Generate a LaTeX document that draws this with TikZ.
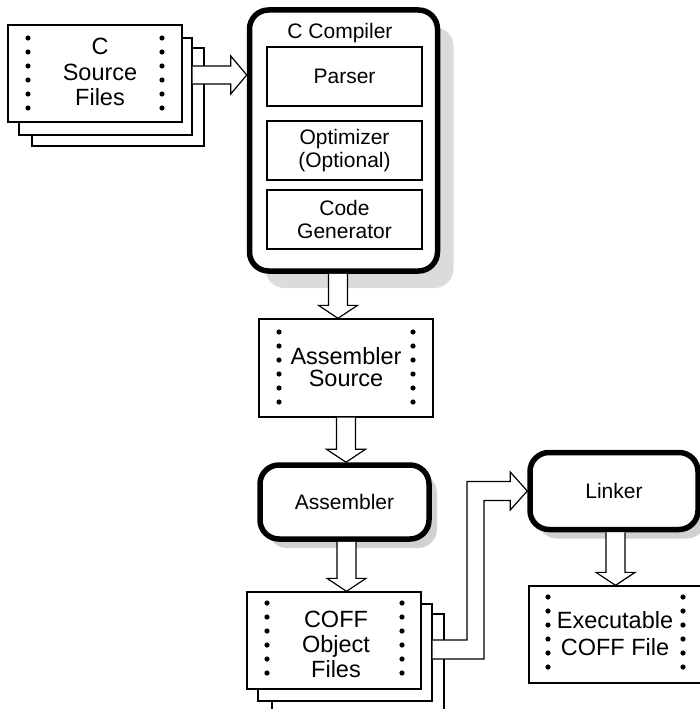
\documentclass[tikz,border=0pt]{standalone}
\usepackage{fontspec}
\setmainfont{Liberation Sans}
\usetikzlibrary{calc,shadows}
\tikzset{
  docbox/.style={draw, fill=white, line width=1.3pt, inner sep=0pt},
  rbox/.style={draw, fill=white, line width=5.5pt, rounded corners=19pt, inner sep=0pt, align=center, font=\fontsize{21}{24}\selectfont},
  ibox/.style={draw, fill=white, line width=1.4pt, inner sep=0pt, minimum width=155pt, minimum height=59pt, align=center, font=\fontsize{21}{23.5}\selectfont},
  bigtxt/.style={inner sep=0pt, align=center, font=\fontsize{23.5}{25.5}\selectfont},
  blk/.style={fill=white, draw=black, line width=1.2pt, line join=miter},
  bigshadow/.style={drop shadow={shadow xshift=16pt, shadow yshift=-17pt, fill=black!14, opacity=1}},
  smallshadow/.style={drop shadow={shadow xshift=8pt, shadow yshift=-9pt, fill=black!18, opacity=1}},
}
\newcommand{\vblock}[3]{%
  \filldraw[blk] let \p1=(#1.south), \p2=(#2.north) in
    (#3pt-9.5pt,\y1) -- (#3pt-9.5pt,\y2+13pt) -- (#3pt-19.5pt,\y2+13pt) -- (#3pt,\y2)
    -- (#3pt+19.5pt,\y2+13pt) -- (#3pt+9.5pt,\y2+13pt) -- (#3pt+9.5pt,\y1);}
\newcommand{\dotcol}[2]{%
  \foreach \k in {0,...,5} {\fill (#1,{#2+14*\k}) circle (2.6pt);}}
\begin{document}
\begin{tikzpicture}[x=1pt,y=-1pt]
\useasboundingbox (0,0) rectangle (700,709);
\clip (0,0) rectangle (700,709);

% C source files stack
\node[docbox, minimum width=172pt, minimum height=98pt] (srcb3) at (118,97) {};
\node[docbox, minimum width=173pt, minimum height=97pt] (srcb2) at (105.5,86.5) {};
\node[docbox, minimum width=174pt, minimum height=97pt] (src) at (95,73.5) {};
\node[bigtxt] (srct) at (100,72) {C\\Source\\Files};
\dotcol{28}{38}
\dotcol{162}{38}

% C compiler
\node[rbox, bigshadow, minimum width=188pt, minimum height=261pt] (comp) at (343.5,140.5) {};
\node[inner sep=0pt, font=\fontsize{21}{24}\selectfont] (complab) at (340,33) {C Compiler};
\node[ibox] (pars) at (344.5,76.5) {Parser};
\node[ibox] (opt) at (344.5,150.5) {Optimizer\\(Optional)};
\node[ibox] (cgen) at (344.5,219.5) {Code\\Generator};

% arrow source -> compiler
\filldraw[blk] let \p1=(srcb2.east), \p2=(comp.west) in
  (\x1,-66pt) -- (\x2-16pt,-66pt) -- (\x2-16pt,-56pt) -- (\x2,-75pt)
  -- (\x2-16pt,-94pt) -- (\x2-16pt,-84pt) -- (\x1,-84pt);

% assembler source
\node[docbox, minimum width=174pt, minimum height=98pt] (asrc) at (346,368) {};
\node[bigtxt, font=\fontsize{23.5}{22}\selectfont] (asrct) at (346,367) {Assembler\\Source};
\dotcol{279}{332}
\dotcol{413}{332}
\vblock{comp}{asrc}{338}

% assembler
\node[rbox, smallshadow, minimum width=169pt, minimum height=74pt] (asm) at (344.5,502) {Assembler};
\vblock{asrc}{asm}{346}

% COFF object files stack
\node[docbox, minimum width=172pt, minimum height=100pt] (coffb3) at (358,664) {};
\node[docbox, minimum width=174pt, minimum height=97pt] (coffb2) at (345,652.5) {};
\node[docbox, minimum width=174pt, minimum height=97pt] (coff) at (334,640.5) {};
\node[bigtxt, font=\fontsize{23.5}{25}\selectfont] (cofft) at (336,644) {COFF\\Object\\Files};
\dotcol{267}{603}
\dotcol{402}{603}
\vblock{asm}{coff}{346.5}

% linker
\node[rbox, smallshadow, minimum width=168pt, minimum height=77pt] (link) at (614,491) {Linker};

% bent arrow COFF -> linker
\filldraw[blk] let \p1=(coffb2.east), \p2=(link.west) in
  (\x1,-640pt) -- (467pt,-640pt) -- (467pt,\y2+9.5pt) -- (\x2-17pt,\y2+9.5pt)
  -- (\x2-17pt,\y2+19pt) -- (\x2,\y2) -- (\x2-17pt,\y2-19pt) -- (\x2-17pt,\y2-9.5pt)
  -- (484pt,\y2-9.5pt) -- (484pt,-659pt) -- (\x1,-659pt);

% executable
\node[docbox, minimum width=177pt, minimum height=97pt] (exe) at (617.5,634.5) {};
\node[bigtxt, font=\fontsize{23.5}{27}\selectfont] (exet) at (615,633.5) {Executable\\COFF File};
\dotcol{548}{597}
\dotcol{683}{597}
\vblock{link}{exe}{615.5}
\end{tikzpicture}
\end{document}
